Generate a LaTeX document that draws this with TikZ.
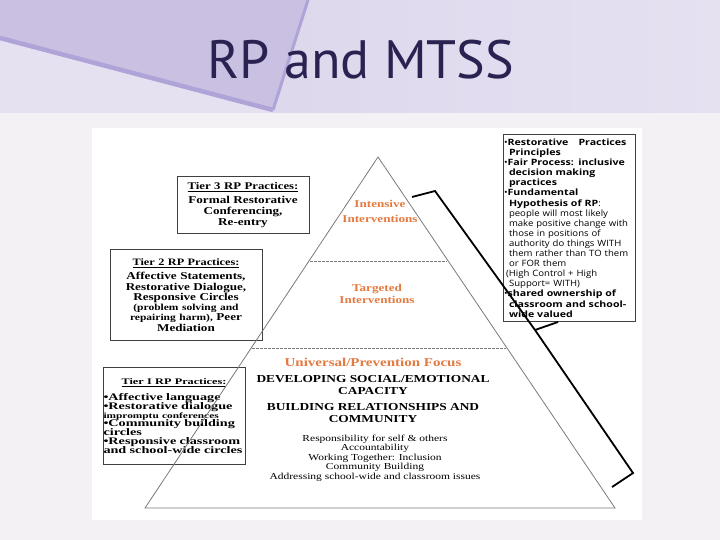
\documentclass[tikz,border=0pt]{standalone}
\usepackage{fontspec}
\setmainfont{Liberation Serif}
\newfontfamily\figfont[FakeStretch=1.25]{Liberation Serif}
\newfontfamily\tierwide[FakeStretch=1.42]{Liberation Serif}
\newfontfamily\notefont[FakeStretch=1.1, BoldFeatures={FakeStretch=1.22}]{Open Sans}
\newfontfamily\titlefont{PT Sans}
\newcommand{\tightskip}{\lineskiplimit=-20pt\hyphenpenalty=10000\relax}

\begin{document}
\begin{tikzpicture}[x=1pt,y=-1pt,
  tierbox/.style={draw=black!75, line width=0.7pt, inner xsep=4pt, inner ysep=6pt,
    align=center, execute at begin node=\tightskip,
    font=\figfont\bfseries\fontsize{10.5}{10.3}\selectfont},
  pyrtxt/.style={inner sep=0pt, align=center},
  orangetxt/.style={pyrtxt, text=rpOrange, font=\figfont\bfseries\fontsize{10.5}{15}\selectfont},
  capstxt/.style={pyrtxt, font=\figfont\bfseries\fontsize{10.7}{11.5}\selectfont},
  plaintxt/.style={pyrtxt, font=\figfont\fontsize{9.2}{9.6}\selectfont}]

% Colours
\definecolor{slideBg}{HTML}{F3F1F3}
\definecolor{bandMid}{HTML}{D9D2EA}
\definecolor{bandDark}{HTML}{C9C0E2}
\definecolor{bandLight}{HTML}{E5E1F1}
\definecolor{bandLine}{HTML}{AFA3D7}
\definecolor{titleInk}{HTML}{2A2250}
\definecolor{rpOrange}{HTML}{E37A40}
\definecolor{pyrGray}{HTML}{7A7A7A}

\useasboundingbox (0,0) rectangle (720,540);

% Slide background
\fill[slideBg] (0,0) rectangle (720,540);
\shade[left color=bandMid, right color=bandLight] (0,0) rectangle (720,113);
\fill[bandDark] (0,0) -- (308,0) -- (273,110) -- (0,38) -- cycle;
\fill[bandLight] (0,38) -- (273,110) -- (272,113) -- (0,113) -- cycle;
\draw[bandLine, line width=4.5pt] (0,38) -- (273,110);
\draw[bandLine, line width=3pt] (308,0) -- (273,110);

% Title
\node[font=\titlefont\fontsize{54}{60}\selectfont, text=titleInk] (title) at (361,60) {RP and MTSS};

% White panel of the figure
\fill[white] (92,128) rectangle (642,520);

% Tier boxes
\node[tierbox, text width=124pt, font=\figfont\bfseries\fontsize{10.5}{11}\selectfont] (tier3) at (243,205)
  {{\fontsize{10.2}{11}\selectfont\underline{Tier 3 RP Practices:}}\\[3pt] Formal Restorative\\ Conferencing,\\ Re-entry};
\node[tierbox, text width=144pt, inner ysep=9pt] (tier2) at (186,295)
  {{\fontsize{9.8}{10}\selectfont\underline{Tier 2 RP Practices:}}\\[4pt] Affective Statements,\\ Restorative Dialogue,\\ Responsive Circles\\
   {\fontsize{9.2}{10}\selectfont (problem solving and}\\ {\fontsize{9.2}{10}\selectfont repairing harm),} Peer\\ Mediation};
\node[tierbox, text width=141pt, inner xsep=0.5pt, inner ysep=11pt, align=left,
  font=\tierwide\bfseries\fontsize{10}{8.8}\selectfont] (tier1) at (174,416)
  {\makebox[141pt]{\fontsize{8.6}{9}\selectfont\underline{Tier I RP Practices:}}\\[7pt]
   \textbullet Affective language\\ \textbullet Restorative dialogue\\
   {\fontsize{8}{8.8}\selectfont impromptu conferences}\\ \textbullet Community building\\ circles\\
   \textbullet Responsive classroom\\ and school-wide circles};

% Principles box
\node[draw=black!75, line width=0.7pt, inner xsep=1pt, inner ysep=4pt, text width=130pt, align=left,
  execute at begin node=\tightskip,
  font=\notefont\fontsize{8.7}{10.1}\selectfont] (principles) at (569,228)
  {\textbullet\textbf{Restorative\hspace{10pt}Practices}\\
   \hspace*{5pt}\textbf{Principles}\\
   \textbullet\textbf{Fair Process: inclusive}\\
   \hspace*{5pt}\textbf{decision making}\\
   \hspace*{5pt}\textbf{practices}\\
   \textbullet\textbf{Fundamental}\\
   \hspace*{5pt}\textbf{Hypothesis of RP}:\\
   \hspace*{5pt}people will most likely\\
   \hspace*{5pt}make positive change with\\
   \hspace*{5pt}those in positions of\\
   \hspace*{5pt}authority do things WITH\\
   \hspace*{5pt}them rather than TO them\\
   \hspace*{5pt}or FOR them\\
   \hspace*{2pt}(High Control + High\\
   \hspace*{5pt}Support= WITH)\\
   \textbullet\textbf{shared ownership of}\\
   \hspace*{5pt}\textbf{classroom and school-}\\
   \hspace*{5pt}\textbf{wide valued}};

% Pyramid
\draw[pyrGray, line width=0.8pt] (378,157) -- (615,508) -- (145,508) -- cycle;
\draw[pyrGray, dashed, dash pattern=on 2.5pt off 1.5pt, line width=0.6pt] (310,261) -- (447,261);
\draw[pyrGray, dashed, dash pattern=on 2.5pt off 1.5pt, line width=0.6pt] (252,348) -- (506,348);

% Pyramid texts
\node[orangetxt] (intensive) at (380,211) {Intensive\\Interventions};
\node[orangetxt, font=\figfont\bfseries\fontsize{10.5}{11.5}\selectfont] (targeted) at (377,294) {Targeted\\Interventions};
\node[orangetxt, font=\figfont\bfseries\fontsize{12}{13}\selectfont] (universal) at (373,362) {Universal/Prevention Focus};
\node[capstxt] (develop) at (373,385) {DEVELOPING SOCIAL/EMOTIONAL\\CAPACITY};
\node[capstxt] (relations) at (373,413) {BUILDING RELATIONSHIPS AND\\COMMUNITY};
\node[plaintxt] (values) at (375,458) {Responsibility for self \& others\\Accountability\\Working Together: Inclusion\\
  Community Building\\Addressing school-wide and classroom issues};

% Brace
\draw[black, line width=1.8pt] (412,197) -- (435,191) -- (535,330) -- (633,473) -- (612,487);
\draw[black, line width=1.8pt] (535,330) -- (558,322);

\end{tikzpicture}
\end{document}
